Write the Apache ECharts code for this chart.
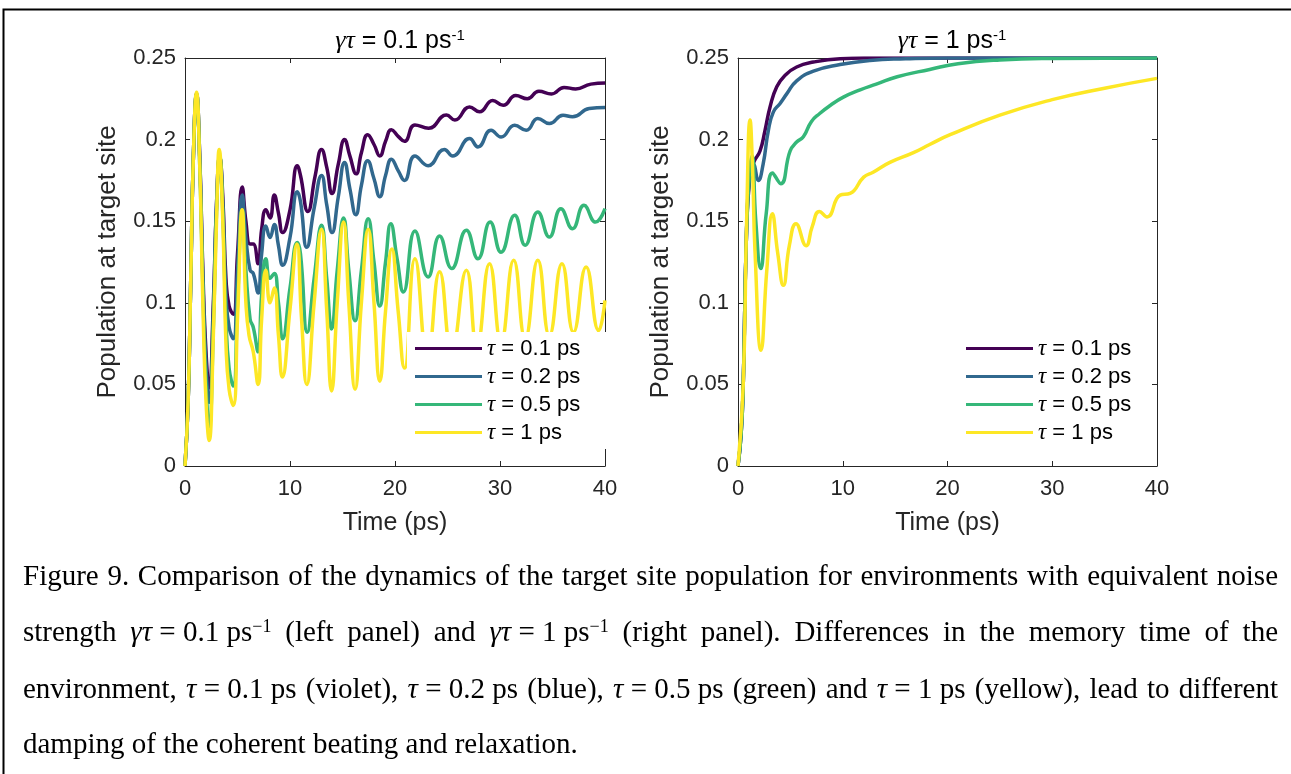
<!DOCTYPE html>
<html>
<head>
<meta charset="utf-8">
<script src="https://cdn.jsdelivr.net/npm/echarts@6/dist/echarts.min.js"></script>
<style>
  html, body { margin: 0; padding: 0; background: #fff; }
  #chart { width: 1291px; height: 774px; }
</style>
</head>
<body>
<div id="chart"></div>
<script>
// 图例名称 / 颜色 (viridis)
var seriesNames = ['τ = 0.1 ps', 'τ = 0.2 ps', 'τ = 0.5 ps', 'τ = 1 ps'];
var colors = ['#440154', '#31688e', '#35b779', '#fde725'];
var yTickLabels = ['0', '0.05', '0.1', '0.15', '0.2', '0.25'];
var titles = ['{i|γτ} = 0.1 ps{s|-1}', '{i|γτ} = 1 ps{s|-1}'];

// 左图 γτ = 0.1 ps^-1  [time(ps), population]
var leftViolet = [[0,0],[0.3,0.04],[0.55,0.115],[0.8,0.19],[1.1,0.228],[1.4,0.19],[1.7,0.12],[2.0,0.07],[2.3,0.048],[2.7,0.1],[3.0,0.16],[3.3,0.19],[3.6,0.165],[3.9,0.115],[4.2,0.098],[4.6,0.093],[5.0,0.13],[5.45,0.171],[5.8,0.15],[6.2,0.136],[6.5,0.136],[6.96,0.124],[7.3,0.145],[7.7,0.157],[8.1,0.152],[8.5,0.166],[8.9,0.155],[9.3,0.143],[10.0,0.157],[10.7,0.184],[11.0,0.178],[11.7,0.156],[12.4,0.178],[13.0,0.194],[13.5,0.183],[14.0,0.167],[14.6,0.185],[15.2,0.2],[15.7,0.19],[16.3,0.179],[16.8,0.192],[17.4,0.203],[18.0,0.197],[18.55,0.19],[19.1,0.199],[19.66,0.206],[20.3,0.202],[20.9,0.199],[21.9,0.209],[23.2,0.207],[24.9,0.215],[25.7,0.212],[27.1,0.22],[28.05,0.217],[29.3,0.224],[30.3,0.221],[31.5,0.227],[32.6,0.225],[33.7,0.2296],[34.9,0.228],[36.1,0.232],[37.2,0.231],[38.65,0.234],[40,0.2347]];
var leftBlue = [[0,0],[0.3,0.04],[0.55,0.115],[0.8,0.19],[1.1,0.228],[1.4,0.19],[1.7,0.115],[2.0,0.062],[2.3,0.039],[2.7,0.095],[3.0,0.16],[3.3,0.19],[3.6,0.16],[3.9,0.105],[4.2,0.085],[4.6,0.078],[5.0,0.12],[5.45,0.166],[5.8,0.14],[6.2,0.12],[6.5,0.118],[6.96,0.106],[7.3,0.13],[7.7,0.147],[8.1,0.14],[8.5,0.148],[8.9,0.135],[9.3,0.123],[10.0,0.14],[10.7,0.168],[11.0,0.162],[11.6,0.134],[12.3,0.158],[13.0,0.178],[13.5,0.16],[14.0,0.143],[14.6,0.165],[15.2,0.186],[15.7,0.17],[16.27,0.154],[16.8,0.172],[17.4,0.187],[18.0,0.176],[18.55,0.165],[19.1,0.178],[19.66,0.188],[20.3,0.181],[20.9,0.175],[21.9,0.19],[23.15,0.184],[24.7,0.194],[25.5,0.19],[27.1,0.2006],[27.9,0.1955],[29.15,0.2057],[30.1,0.2016],[31.4,0.2088],[32.5,0.2057],[33.6,0.2129],[34.7,0.2098],[36.0,0.2149],[36.9,0.214],[38.5,0.219],[40,0.2196]];
var leftGreen = [[0,0],[0.3,0.04],[0.55,0.115],[0.8,0.19],[1.1,0.228],[1.4,0.185],[1.7,0.11],[2.0,0.05],[2.3,0.024],[2.7,0.085],[3.0,0.155],[3.3,0.19],[3.6,0.155],[3.9,0.09],[4.2,0.06],[4.6,0.049],[5.0,0.1],[5.45,0.157],[5.8,0.12],[6.2,0.09],[6.5,0.085],[6.96,0.07],[7.3,0.105],[7.7,0.127],[8.1,0.115],[8.5,0.118],[8.9,0.1],[9.3,0.078],[10.0,0.109],[10.7,0.137],[11.0,0.13],[11.65,0.082],[12.3,0.115],[13.0,0.1475],[13.5,0.115],[13.96,0.084],[14.5,0.12],[15.1,0.152],[15.6,0.12],[16.2,0.089],[16.8,0.12],[17.45,0.1515],[18.0,0.125],[18.55,0.098],[19.1,0.125],[19.6,0.1485],[20.2,0.127],[20.8,0.1066],[21.9,0.144],[23.15,0.1158],[24.25,0.141],[25.4,0.121],[26.8,0.1445],[27.9,0.127],[29.06,0.1495],[30.1,0.131],[31.4,0.1536],[32.4,0.1353],[33.6,0.1556],[34.7,0.1403],[35.8,0.1577],[36.9,0.1454],[38.0,0.1597],[39.1,0.1495],[40,0.1577]];
var leftYellow = [[0,0],[0.3,0.04],[0.55,0.115],[0.8,0.19],[1.1,0.229],[1.4,0.185],[1.7,0.1],[2.0,0.04],[2.3,0.0157],[2.7,0.08],[3.0,0.15],[3.26,0.194],[3.6,0.15],[3.9,0.075],[4.2,0.047],[4.6,0.037],[5.0,0.09],[5.44,0.157],[5.8,0.1],[6.1,0.08],[6.5,0.07],[6.96,0.05],[7.3,0.09],[7.7,0.12],[8.1,0.1],[8.5,0.109],[8.9,0.08],[9.27,0.0545],[10.0,0.096],[10.66,0.136],[11.1,0.09],[11.6,0.05],[12.3,0.1],[13.0,0.145],[13.5,0.095],[13.96,0.046],[14.5,0.1],[15.1,0.1495],[15.6,0.1],[16.2,0.047],[16.8,0.1],[17.45,0.145],[18.0,0.1],[18.55,0.052],[19.1,0.095],[19.7,0.133],[20.3,0.095],[20.9,0.06],[21.9,0.127],[23.1,0.066],[24.25,0.119],[25.4,0.07],[26.8,0.12],[27.8,0.073],[29.0,0.124],[30.1,0.076],[31.3,0.126],[32.4,0.078],[33.6,0.126],[34.7,0.08],[35.9,0.124],[37.0,0.082],[38.2,0.122],[39.4,0.083],[40,0.1015]];

// 右图 γτ = 1 ps^-1
var rightViolet = [[0,0],[0.3,0.02],[0.5,0.05],[0.8,0.14],[1.1,0.175],[1.5,0.186],[2.1,0.193],[2.58,0.2057],[3.06,0.22],[3.7,0.2324],[4.5,0.2394],[5.6,0.2445],[7.2,0.2475],[9.75,0.2496],[12,0.25],[40,0.25]];
var rightBlue = [[0,0],[0.3,0.02],[0.5,0.05],[0.8,0.14],[1.1,0.178],[1.46,0.185],[1.94,0.175],[2.4,0.185],[2.9,0.2057],[3.38,0.217],[4.0,0.222],[4.65,0.228],[5.6,0.236],[7.2,0.242],[9.75,0.246],[12.6,0.2485],[16,0.2495],[20,0.25],[40,0.25]];
var rightGreen = [[0,0],[0.3,0.02],[0.5,0.05],[0.8,0.14],[1.1,0.18],[1.35,0.19],[1.7,0.15],[2.17,0.121],[2.7,0.155],[3.3,0.1795],[4.08,0.173],[4.97,0.193],[5.6,0.1985],[6.24,0.2017],[7.0,0.211],[7.8,0.216],[8.8,0.2209],[10.06,0.226],[11.66,0.2305],[13.2,0.234],[15.2,0.2385],[18.3,0.243],[21,0.2465],[25,0.2488],[30,0.2497],[40,0.25]];
var rightYellow = [[0,0],[0.5,0.05],[0.83,0.152],[1.15,0.212],[1.4,0.18],[1.62,0.132],[2.2,0.0709],[2.75,0.12],[3.28,0.1546],[3.8,0.13],[4.33,0.1107],[4.9,0.135],[5.54,0.1485],[6.5,0.135],[7.1,0.147],[7.77,0.156],[8.5,0.1526],[9.75,0.166],[10.7,0.167],[12.0,0.177],[12.9,0.18],[14.5,0.186],[16.75,0.192],[18.3,0.197],[20.25,0.203],[25,0.215],[30,0.2245],[35,0.2315],[40,0.2375]];

// 图注文字（逐行两端对齐）
var capLines = [
  'Figure 9. Comparison of the dynamics of the target site population for environments with equivalent noise'.split(' '),
  ['strength', '{i|γτ} = 0.1 ps{s|−1}', '(left', 'panel)', 'and', '{i|γτ} = 1 ps{s|−1}', '(right', 'panel).', 'Differences', 'in', 'the', 'memory', 'time', 'of', 'the'],
  ['environment,', '{i|τ} = 0.1 ps', '(violet),', '{i|τ} = 0.2 ps', '(blue),', '{i|τ} = 0.5 ps', '(green)', 'and', '{i|τ} = 1 ps', '(yellow),', 'lead', 'to', 'different'],
  'damping of the coherent beating and relaxation.'.split(' ')
];
var capY = [577, 633, 690, 745];

var sans = '"Liberation Sans", Arial, sans-serif';
var serif = '"Liberation Serif", "Times New Roman", serif';
var axisColor = '#262626';
var capSize = 29;

var chart = echarts.init(document.getElementById('chart'));

function xAxes(g) {
  var line = { show: true, onZero: false, lineStyle: { color: axisColor, width: 1 } };
  var tick = { show: true, inside: true, length: 5, lineStyle: { color: axisColor } };
  return [
    { gridIndex: g, type: 'value', min: 0, max: 40, interval: 10, position: 'bottom',
      name: 'Time (ps)', nameLocation: 'middle', nameGap: 45,
      nameTextStyle: { fontSize: 25, color: axisColor, fontFamily: sans },
      axisLine: line, axisTick: tick, splitLine: { show: false },
      axisLabel: { fontSize: 22, color: axisColor, fontFamily: sans, margin: 12 } },
    { gridIndex: g, type: 'value', min: 0, max: 40, interval: 10, position: 'top',
      axisLine: line, axisTick: tick, splitLine: { show: false }, axisLabel: { show: false } }
  ];
}
function yAxes(g) {
  var line = { show: true, onZero: false, lineStyle: { color: axisColor, width: 1 } };
  var tick = { show: true, inside: true, length: 5, lineStyle: { color: axisColor } };
  return [
    { gridIndex: g, type: 'value', min: 0, max: 0.25, interval: 0.05, position: 'left',
      name: 'Population at target site', nameLocation: 'middle', nameGap: 64,
      nameTextStyle: { fontSize: 26, color: axisColor, fontFamily: sans },
      axisLine: line, axisTick: tick, splitLine: { show: false },
      axisLabel: { fontSize: 22, color: axisColor, fontFamily: sans, margin: 9,
        formatter: function (v, i) { return yTickLabels[i]; } } },
    { gridIndex: g, type: 'value', min: 0, max: 0.25, interval: 0.05, position: 'right',
      axisLine: line, axisTick: tick, splitLine: { show: false }, axisLabel: { show: false } }
  ];
}
function line(idx, data, g) {
  return {
    name: seriesNames[idx], type: 'line', xAxisIndex: g * 2, yAxisIndex: g * 2,
    data: data, symbol: 'none', showSymbol: false, smooth: 0.5,
    lineStyle: { width: 3.5, color: colors[idx] }, itemStyle: { color: colors[idx] },
    animation: false, z: 2
  };
}
function legendAt(left, bg) {
  return {
    data: seriesNames, orient: 'vertical', left: left, top: 332,
    backgroundColor: bg, padding: [5, 26, 5, 8],
    icon: 'path://M0,0H67V3H0Z', itemStyle: { borderWidth: 0 },
    itemWidth: 67, itemHeight: 14, itemGap: 5, selectedMode: false,
    formatter: function (name) { return name.replace('τ', '{i|τ}'); },
    textStyle: { fontSize: 22, color: '#000', fontFamily: sans,
      rich: { i: { fontSize: 23, fontStyle: 'italic', fontFamily: serif, color: '#000' } } }
  };
}
function titleAt(x, text) {
  return {
    text: text, left: x, top: 23, textAlign: 'center',
    textStyle: { fontSize: 25, fontWeight: 'normal', color: '#000', fontFamily: sans,
      rich: {
        i: { fontSize: 26, fontStyle: 'italic', fontFamily: serif, color: '#000' },
        s: { fontSize: 15, verticalAlign: 'top', fontFamily: sans, color: '#000' }
      } }
  };
}

// 图注两端对齐
var cv = document.createElement('canvas').getContext('2d');
var fonts = {
  '': capSize + 'px ' + serif,
  i: 'italic ' + capSize + 'px ' + serif,
  s: '18px ' + serif
};
function tokWidth(tok) {
  var re = /\{(\w+)\|([^}]*)\}|([^{]+)/g, m, w = 0;
  while ((m = re.exec(tok))) {
    cv.font = m[3] ? fonts[''] : fonts[m[1]];
    w += cv.measureText(m[3] || m[2]).width;
  }
  return w;
}
var capLeft = 23, capRight = 1278;
var graphics = [{
  type: 'polyline', silent: true,
  shape: { points: [[3.5, 774], [3.5, 9.5], [1291, 9.5]] },
  style: { stroke: '#000', lineWidth: 2, fill: null }
}];
capLines.forEach(function (toks, li) {
  var ws = toks.map(tokWidth);
  var sum = ws.reduce(function (a, b) { return a + b; }, 0);
  cv.font = fonts[''];
  var gap = cv.measureText(' ').width;
  if (li < capLines.length - 1) gap = (capRight - capLeft - sum) / (toks.length - 1);
  var x = capLeft;
  toks.forEach(function (tok, k) {
    graphics.push({
      type: 'text', silent: true, x: x, y: capY[li],
      style: {
        text: tok, fill: '#000', fontSize: capSize, fontFamily: serif, verticalAlign: 'middle',
        rich: {
          i: { fontSize: capSize, fontStyle: 'italic', fontFamily: serif, fill: '#000' },
          s: { fontSize: 18, fontFamily: serif, verticalAlign: 'top', fill: '#000' }
        }
      }
    });
    x += ws[k] + gap;
  });
});

var option = {
  backgroundColor: '#fff',
  animation: false,
  title: [titleAt(395, titles[0]), titleAt(947, titles[1])],
  grid: [
    { left: 185, top: 58, width: 420, height: 408 },
    { left: 738, top: 58, width: 419, height: 408 }
  ],
  xAxis: xAxes(0).concat(xAxes(1)),
  yAxis: yAxes(0).concat(yAxes(1)),
  legend: [legendAt(407, '#fff'), legendAt(958, 'transparent')],
  series: [
    line(0, leftViolet, 0), line(1, leftBlue, 0), line(2, leftGreen, 0), line(3, leftYellow, 0),
    line(0, rightViolet, 1), line(1, rightBlue, 1), line(2, rightGreen, 1), line(3, rightYellow, 1)
  ],
  graphic: graphics
};
chart.setOption(option);
</script>
</body>
</html>
